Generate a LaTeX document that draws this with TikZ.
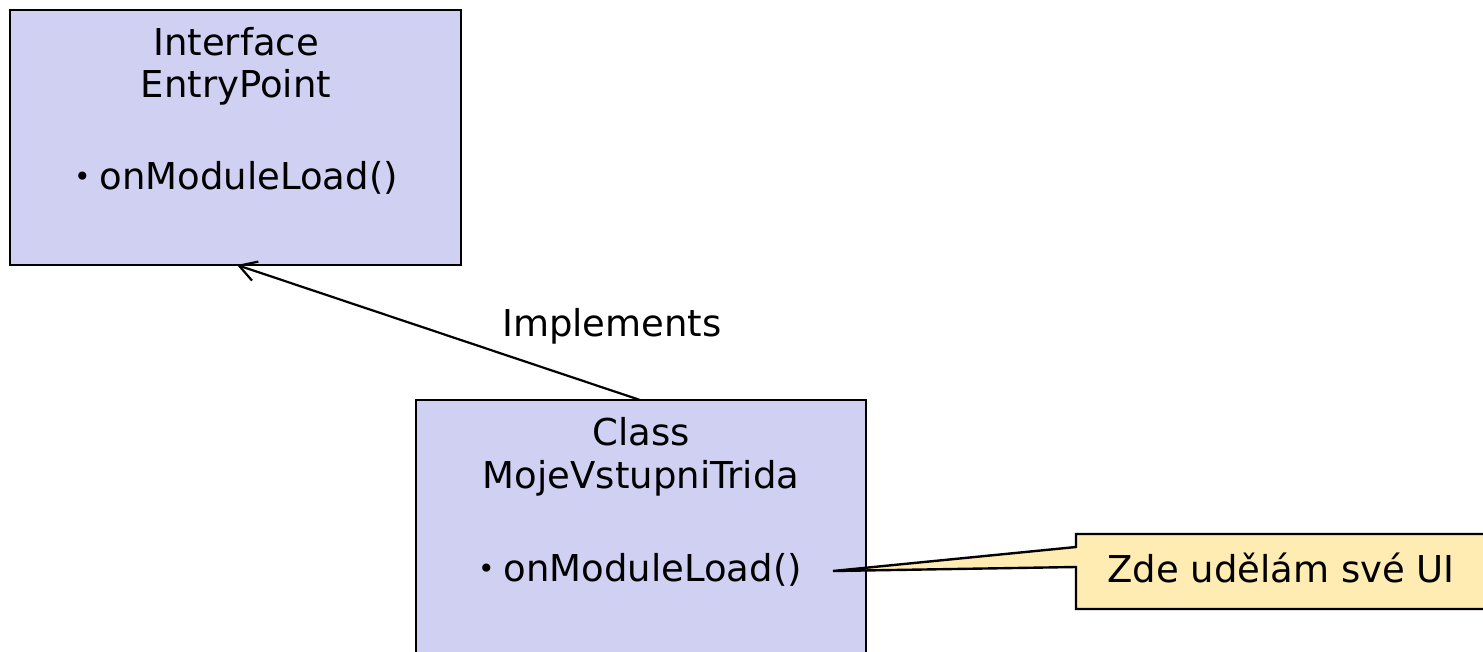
\documentclass[tikz,border=0pt]{standalone}
\usepackage{fontspec}
\setmainfont{DejaVu Sans}
\usetikzlibrary{arrows.meta}
\definecolor{boxfill}{RGB}{208,208,242}
\definecolor{notefill}{RGB}{255,236,178}
\newcommand{\smallbullet}{\raisebox{3pt}{\fontsize{28}{28}\selectfont •}\hspace{9pt}}
\tikzset{
  umlbox/.style={draw=black, line width=2.4pt, fill=boxfill, rectangle, inner sep=0pt},
  label38/.style={font=\fontsize{37}{45}\selectfont, inner sep=0pt, anchor=center},
  link/.style={line width=2.2pt, -{Straight Barb[length=17pt,width=20pt,line width=2.2pt]}},
}
\begin{document}
\begin{tikzpicture}[x=1pt,y=-1pt]
\useasboundingbox (0,0) rectangle (1483,652);
% interface box
\node[umlbox, minimum width=451pt, minimum height=255pt] (iface) at (235.5,137.5) {};
\node[label38] (ifaceA) at (236,42) {Interface};
\node[label38] (ifaceB) at (236,87) {EntryPoint};
\node[label38] (ifaceM) at (236,178) {\smallbullet onModuleLoad()};
% class box (runs past the bottom edge)
\node[umlbox, minimum width=450pt, minimum height=320pt] (cls) at (641,560) {};
\node[label38] (clsA) at (641,432) {Class};
\node[label38] (clsB) at (641,478) {MojeVstupniTrida};
\node[label38] (clsM) at (640,570) {\smallbullet onModuleLoad()};
% implements relation
\coordinate (implFrom) at (640,400);
\coordinate (implTo) at (237,265);
\draw[link] (implFrom) -- (implTo);
\node[label38] (impl) at (612,326) {Implements};
% note callout
\coordinate (tip) at (833,571);
\draw[line width=2.4pt, fill=notefill]
  (1076,534) -- (1500,534) -- (1500,609) -- (1076,609) -- (1076,567) -- (tip) -- (1076,547) -- cycle;
\node[label38] (note) at (1281,568) {Zde udělám své UI};
\end{tikzpicture}
\end{document}
